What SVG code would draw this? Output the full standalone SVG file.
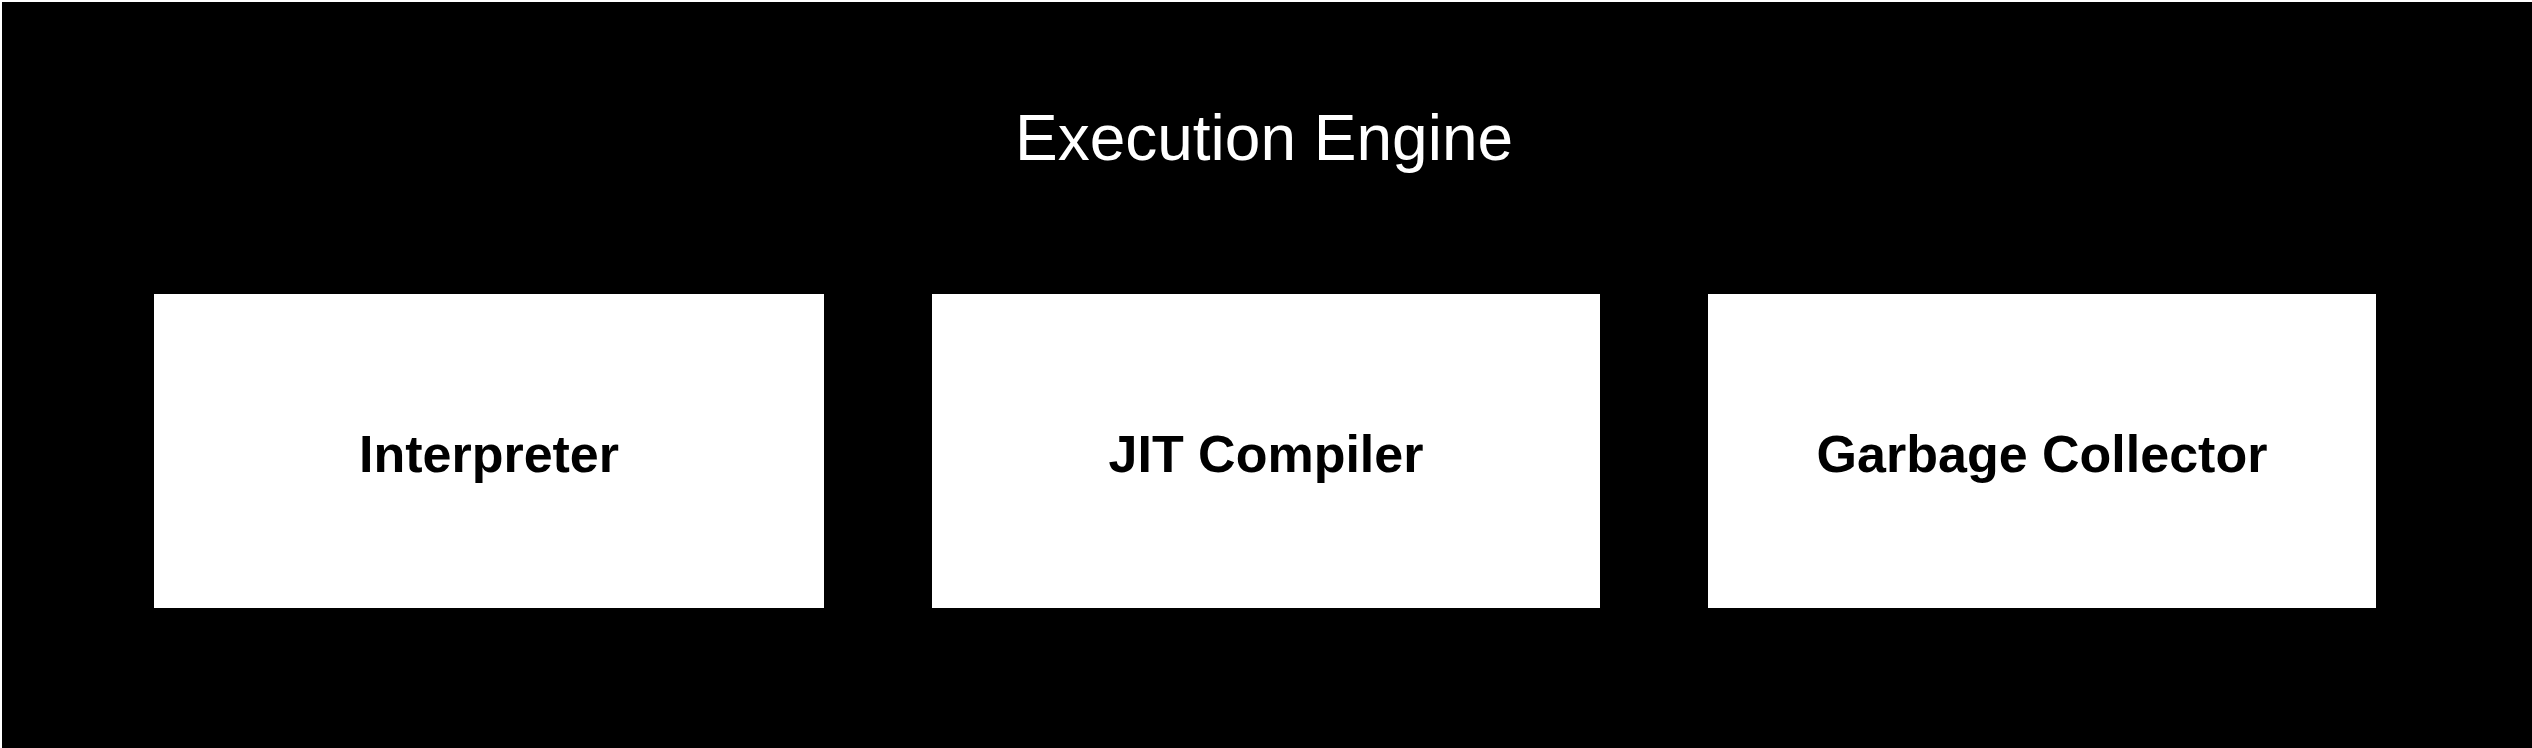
<svg xmlns="http://www.w3.org/2000/svg" width="2532" height="748" viewBox="0 0 2532 748">
<style>
.box{fill:#ffffff;stroke:none}
.lbl{font-family:"Liberation Sans",Arial,Helvetica,sans-serif;font-weight:bold;font-size:52px;fill:#000000;text-anchor:middle}
.title{font-family:"Liberation Sans",Arial,Helvetica,sans-serif;font-size:64px;fill:#ffffff;text-anchor:middle}
</style>
<rect x="0" y="0" width="2532" height="748" fill="#ffffff"/>
<g id="execution-engine">
<rect x="2" y="2" width="2530" height="746" fill="#000000"/>
<text class="title" x="1264" y="160">Execution Engine</text>
</g>
<g id="interpreter">
<rect class="box" x="154" y="294" width="670" height="314"/>
<text class="lbl" x="489" y="472">Interpreter</text>
</g>
<g id="jit-compiler">
<rect class="box" x="932" y="294" width="668" height="314"/>
<text class="lbl" x="1266" y="472">JIT Compiler</text>
</g>
<g id="garbage-collector">
<rect class="box" x="1708" y="294" width="668" height="314"/>
<text class="lbl" x="2042" y="472">Garbage Collector</text>
</g>
<g id="connectors"></g>
</svg>
